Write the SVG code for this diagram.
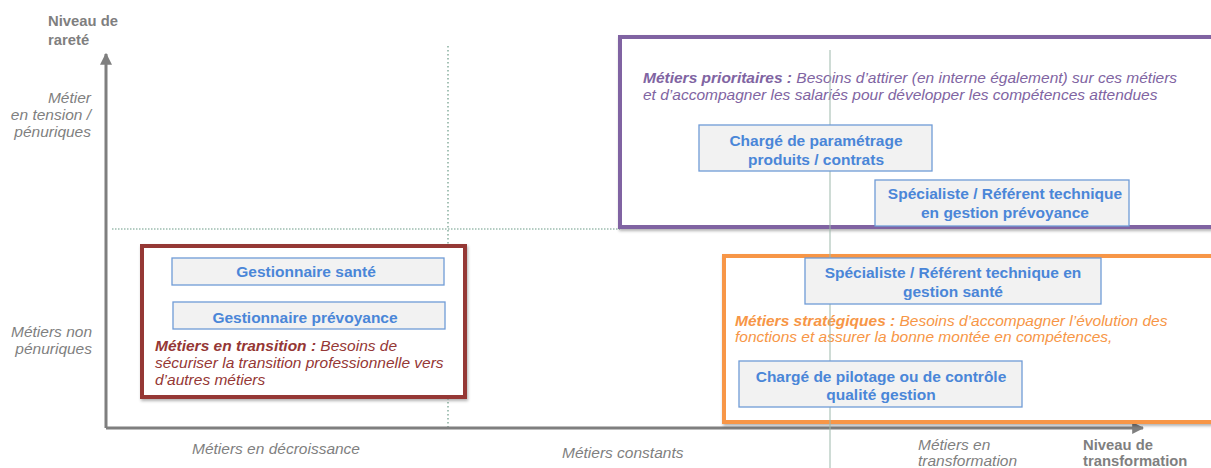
<svg xmlns="http://www.w3.org/2000/svg" width="1211" height="468" viewBox="0 0 1211 468">
<defs>
<style>
.ax{fill:#7f7f7f;font-family:"Liberation Sans",Arial,sans-serif;font-size:15.5px}
.axb{fill:#7f7f7f;font-family:"Liberation Sans",Arial,sans-serif;font-size:14.8px;font-weight:bold}
.it{font-style:italic}
.node rect{fill:#f2f2f2;stroke:#6f9bd6;stroke-width:1.3}
.node text{fill:#4a86d8;font-family:"Liberation Sans",Arial,sans-serif;font-size:15.5px;font-weight:bold;text-anchor:middle}
.desc{font-family:"Liberation Sans",Arial,sans-serif;font-size:15.5px;font-style:italic}
</style>
<marker id="arr" viewBox="0 0 10 10" refX="9" refY="5" markerWidth="4" markerHeight="4" orient="auto" markerUnits="strokeWidth">
<path d="M0,0 L10,5 L0,10 z" fill="#7f7f7f"/>
</marker>
<filter id="sh" x="-5%" y="-5%" width="110%" height="115%">
<feDropShadow dx="1" dy="2" stdDeviation="1.5" flood-color="#000" flood-opacity="0.3"/>
</filter>
</defs>
<rect width="1211" height="468" fill="#ffffff"/>

<g id="connectors">
<line x1="448" y1="46" x2="448" y2="428" stroke="#6a9a86" stroke-width="1.2" stroke-dasharray="1.5,2.5"/>
<line x1="112" y1="229" x2="620" y2="229" stroke="#6a9a86" stroke-width="1.2" stroke-dasharray="1.5,1.5"/>
<line x1="106" y1="428" x2="106" y2="54" stroke="#7f7f7f" stroke-width="3" marker-end="url(#arr)"/>
<line x1="106" y1="428" x2="1143" y2="428" stroke="#7f7f7f" stroke-width="3" marker-end="url(#arr)"/>
</g>

<g id="zone-transition">
<rect x="142" y="246" width="323" height="151" fill="#ffffff" stroke="#953735" stroke-width="4" filter="url(#sh)"/>
<text class="desc" fill="#953735"><tspan x="155" y="351"><tspan font-weight="bold">Métiers en transition :</tspan> Besoins de</tspan><tspan x="155" y="368">sécuriser la transition professionnelle vers</tspan><tspan x="155" y="385">d’autres métiers</tspan></text>
</g>

<g id="zone-prioritaires">
<rect x="620" y="37" width="600" height="190" fill="#ffffff" stroke="#8064a2" stroke-width="4" filter="url(#sh)"/>
<text class="desc" fill="#8064a2"><tspan x="643" y="83"><tspan font-weight="bold">Métiers prioritaires :</tspan> Besoins d’attirer (en interne également) sur ces métiers</tspan><tspan x="643" y="100">et d’accompagner les salariés pour développer les compétences attendues</tspan></text>
</g>

<g id="zone-strategiques">
<rect x="724" y="256" width="500" height="166" fill="#ffffff" stroke="#f79646" stroke-width="4" filter="url(#sh)"/>
<text class="desc" fill="#f79646"><tspan x="735" y="326"><tspan font-weight="bold">Métiers stratégiques :</tspan> Besoins d’accompagner l’évolution des</tspan><tspan x="735" y="342">fonctions et assurer la bonne montée en compétences,</tspan></text>
</g>

<line x1="830" y1="50" x2="830" y2="468" stroke="#9db8ab" stroke-width="1"/>

<g id="n-gestionnaire-sante" class="node">
<rect x="172" y="258" width="272" height="27"/>
<text x="306" y="277">Gestionnaire santé</text>
</g>
<g id="n-gestionnaire-prevoyance" class="node">
<rect x="173" y="302" width="272" height="27"/>
<text x="305" y="323">Gestionnaire prévoyance</text>
</g>
<g id="n-charge-parametrage" class="node">
<rect x="699" y="125" width="233" height="46"/>
<text x="816" y="146">Chargé de paramétrage</text>
<text x="816" y="165">produits / contrats</text>
</g>
<g id="n-specialiste-prevoyance" class="node">
<rect x="875" y="180" width="254" height="46"/>
<text x="1005" y="199">Spécialiste / Référent technique</text>
<text x="1005" y="218">en gestion prévoyance</text>
</g>
<g id="n-specialiste-sante" class="node">
<rect x="805" y="258" width="296" height="46"/>
<text x="953" y="278">Spécialiste / Référent technique en</text>
<text x="953" y="297">gestion santé</text>
</g>
<g id="n-charge-pilotage" class="node">
<rect x="739" y="361" width="283" height="46"/>
<text x="881" y="382">Chargé de pilotage ou de contrôle</text>
<text x="881" y="400">qualité gestion</text>
</g>

<g id="labels">
<text class="axb" x="48" y="26">Niveau de</text>
<text class="axb" x="48" y="45">rareté</text>
<text class="ax it" text-anchor="end"><tspan x="91" y="103">Métier</tspan><tspan x="91" y="120">en tension /</tspan><tspan x="91" y="137">pénuriques</tspan></text>
<text class="ax it" text-anchor="end"><tspan x="92" y="337">Métiers non</tspan><tspan x="92" y="354">pénuriques</tspan></text>
<text class="ax it" x="192" y="454">Métiers en décroissance</text>
<text class="ax it" x="562" y="458">Métiers constants</text>
<text class="ax it" x="918" y="450">Métiers en</text>
<text class="ax it" x="918" y="466">transformation</text>
<text class="axb" x="1083" y="450">Niveau de</text>
<text class="axb" x="1083" y="466">transformation</text>
</g>
</svg>
